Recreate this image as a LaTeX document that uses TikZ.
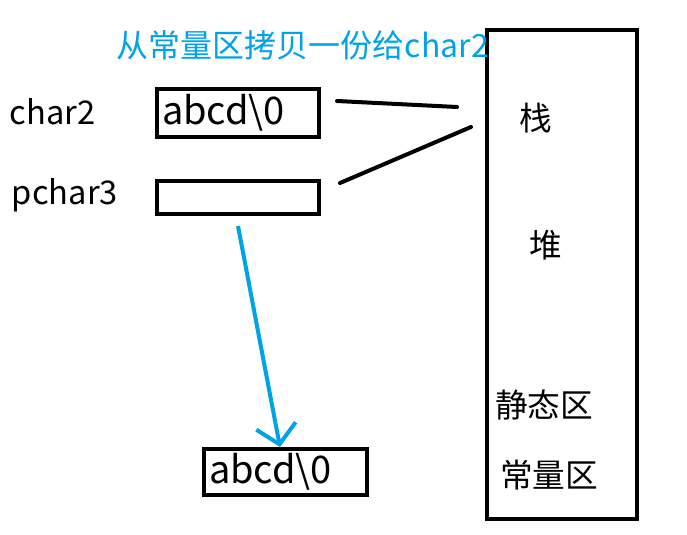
\documentclass[tikz,border=0pt]{standalone}
\usepackage{fontspec}
\setmainfont{Noto Sans CJK SC}
\usetikzlibrary{arrows.meta}
\definecolor{copyblue}{RGB}{0,162,232}
\tikzset{every picture/.style={line width=3pt}}
\tikzset{
  cell/.style={draw, line width=3pt, inner sep=0pt, anchor=north west},
  txt/.style={inner sep=0.75pt, font=\fontsize{24.5}{28}\selectfont},
  strtxt/.style={inner sep=0.75pt, font=\fontsize{28.5}{32}\selectfont, anchor=west},
}

\begin{document}
\begin{tikzpicture}[x=0.75pt,y=0.75pt,yscale=-1,xscale=1]
\useasboundingbox (0,0) rectangle (687,535);

%Shape: Rectangle [id:memory] 
\draw (487,30) rectangle (637,519) ;
% boxes
\node (char2box) [cell, minimum width=121.5pt, minimum height=36pt] at (155,87) {};
\node (pchar3box) [cell, minimum width=121.5pt, minimum height=24.75pt] at (155,179) {};
\node (constbox) [cell, minimum width=122.25pt, minimum height=34.5pt] at (202,447) {};

% Text Node
\node (title) [txt, anchor=west, text=copyblue, font=\fontsize{24}{28}\selectfont] at (114,45) {从常量区拷贝一份给char2};
% Text Node
\node (char2) [txt, anchor=west] at (7,112) {char2};
% Text Node
\node (pchar3) [txt, anchor=west] at (9,195) {pchar3};
% Text Node
\node (str1) [strtxt] at (159,113) {abcd\textbackslash0};
% Text Node
\node (str2) [strtxt] at (206,472) {abcd\textbackslash0};
% Text Node
\node (stack) [txt] at (536,118) {栈};
% Text Node
\node (heap) [txt] at (546,245) {堆};
% Text Node
\node (static) [txt] at (544,405) {静态区};
% Text Node
\node (const) [txt] at (549,475) {常量区};

%Straight Lines [id:lines] 
\coordinate (l1a) at (337,101);
\coordinate (l1b) at (457,107);
\coordinate (l2a) at (340,183);
\coordinate (l2b) at (471,127);
\draw [line cap=round] (l1a) -- (l1b) ;
\draw [line cap=round] (l2a) -- (l2b) ;
%Straight Lines [id:arrow] 
\coordinate (ptr) at (238,226);
\draw [color=copyblue, -{Straight Barb[length=14pt, width=30pt, line width=3pt]}] (ptr) -- (constbox.north -| 280,0) ;

\end{tikzpicture}
\end{document}
